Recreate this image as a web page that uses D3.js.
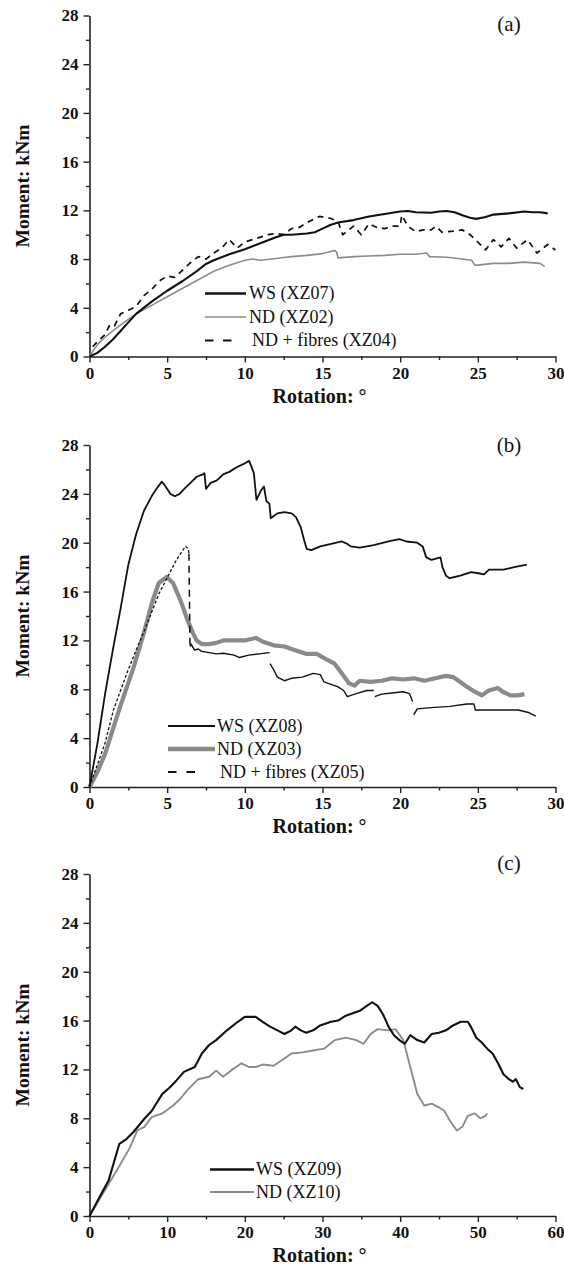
<!DOCTYPE html>
<html>
<head>
<meta charset="utf-8">
<script src="https://cdn.jsdelivr.net/npm/d3@7"></script>
<style>
  html, body { margin: 0; padding: 0; background: #fff; }
  svg { display: block; }
</style>
</head>
<body>
<svg id="chart" width="564" height="1281"></svg>
<script>
// ---------- data ----------
const momentTicks = [0, 4, 8, 12, 16, 20, 24, 28];
const momentMinor = [2, 6, 10, 14, 18, 22, 26];
const rotTicks30 = [0, 5, 10, 15, 20, 25, 30];
const rotMinor30 = [2.5, 7.5, 12.5, 17.5, 22.5, 27.5];
const rotTicks60 = [0, 10, 20, 30, 40, 50, 60];
const rotMinor60 = [5, 15, 25, 35, 45, 55];

const panelLabels = ["(a)", "(b)", "(c)"];
const legendA = ["WS (XZ07)", "ND (XZ02)", "ND + fibres (XZ04)"];
const legendB = ["WS (XZ08)", "ND (XZ03)", "ND + fibres (XZ05)"];
const legendC = ["WS (XZ09)", "ND (XZ10)"];

// Panel (a)
const xz07 = [[0,0],[0.5,0.3],[1,0.8],[1.5,1.4],[2,2.1],[2.5,2.8],[3,3.5],[4,4.5],[5,5.4],[6,6.2],[7,7.1],[7.5,7.6],[8,7.9],[9,8.4],[10,8.8],[11,9.3],[12,9.8],[12.5,10.0],[13,10.0],[14,10.1],[14.5,10.2],[15,10.5],[15.5,10.8],[16,11.0],[17,11.2],[18,11.5],[19,11.7],[20,11.9],[20.5,11.95],[21,11.85],[22,11.8],[22.5,11.9],[23,11.95],[23.5,11.85],[24,11.6],[24.5,11.4],[24.9,11.3],[25.5,11.45],[26,11.65],[27,11.75],[28,11.9],[28.5,11.85],[29,11.85],[29.5,11.75]];
const xz02 = [[0,0],[0.3,0.6],[0.6,1.1],[1,1.6],[2,2.6],[3,3.5],[4,4.2],[5,4.9],[6,5.6],[7,6.3],[8,7.0],[9,7.5],[10,7.9],[10.5,8.0],[11,7.9],[12,8.05],[13,8.2],[14,8.3],[15,8.45],[15.8,8.7],[15.9,8.6],[16,8.1],[17,8.2],[18,8.25],[19,8.3],[20,8.4],[21,8.4],[21.7,8.5],[21.9,8.2],[23,8.15],[24,8.0],[24.6,7.9],[24.8,7.5],[25,7.5],[26,7.65],[27,7.65],[28,7.75],[29,7.65],[29.3,7.4]];
const xz04 = [[0.2,0.8],[0.5,1.2],[1,1.8],[1.3,2.6],[1.6,2.5],[2,3.5],[2.5,3.8],[3,4.1],[3.5,5.0],[4,5.5],[4.5,6.2],[5,6.6],[5.5,6.5],[6,7.1],[6.5,7.7],[7,8.2],[7.5,8.0],[8,8.5],[8.5,8.9],[9,9.6],[9.5,8.9],[10,9.4],[10.5,9.6],[11,9.8],[11.5,10.0],[12,10.1],[12.5,10.0],[13,10.5],[13.5,10.6],[14,11.0],[14.8,11.5],[15.5,11.35],[16,11.1],[16.3,10.0],[16.6,10.3],[17,10.7],[17.5,10.0],[18,10.9],[18.5,10.6],[19,10.5],[19.5,10.7],[20,10.7],[20.1,11.6],[20.5,10.7],[21,10.25],[21.5,10.4],[22,10.4],[22.3,10.7],[22.7,10.2],[23,10.25],[23.5,10.3],[24,10.4],[24.5,10.0],[25,9.4],[25.5,8.75],[26,9.6],[26.5,9.0],[27,9.7],[27.5,8.9],[28.2,9.6],[28.8,8.5],[29.5,9.2],[30,8.75]];

// Panel (b)
const xz08 = [[0,0],[0.5,3.5],[1,7.6],[1.5,11.2],[2,14.6],[2.5,18.2],[3,20.7],[3.5,22.6],[4,23.8],[4.3,24.4],[4.66,25.0],[4.9,24.6],[5.2,24.0],[5.5,23.8],[5.8,24.0],[6.1,24.4],[6.5,24.9],[6.9,25.4],[7.3,25.6],[7.4,25.7],[7.5,24.4],[7.8,24.9],[8.2,25.1],[8.6,25.6],[9.0,25.8],[9.5,26.2],[10.0,26.5],[10.28,26.7],[10.58,25.7],[10.75,23.5],[11.05,24.3],[11.23,24.6],[11.39,23.4],[11.58,23.2],[11.67,22.0],[12.09,22.4],[12.55,22.5],[13.01,22.4],[13.29,22.1],[13.59,21.3],[13.82,20.2],[13.98,19.5],[14.28,19.4],[14.86,19.7],[15.55,19.9],[16.25,20.1],[16.6,19.9],[16.82,19.7],[17.4,19.6],[18.3,19.8],[19.25,20.1],[19.95,20.3],[20.4,20.1],[21.1,20.0],[21.45,19.7],[21.68,18.8],[22.02,18.6],[22.6,18.8],[22.72,18.0],[22.95,17.3],[23.18,17.1],[23.87,17.3],[24.57,17.6],[25.03,17.5],[25.4,17.4],[25.72,17.8],[26.65,17.8],[27.34,18.0],[28.15,18.2]];
const xz03 = [[0,0],[0.5,1.2],[1.0,2.7],[1.9,6.3],[2.84,9.8],[3.5,12.6],[4.0,15.0],[4.46,16.7],[4.97,17.2],[5.38,16.7],[5.85,15.3],[6.3,13.7],[6.66,12.6],[6.9,12.0],[7.23,11.7],[7.7,11.7],[8.16,11.8],[8.62,12.0],[9.31,12.0],[10.0,12.0],[10.7,12.2],[11.16,11.9],[11.86,11.6],[12.55,11.5],[13.24,11.2],[13.94,10.9],[14.63,10.9],[15.32,10.4],[15.78,10.1],[16.25,9.3],[16.7,8.5],[17.06,8.3],[17.4,8.7],[18.1,8.6],[18.8,8.7],[19.5,8.9],[20.2,8.8],[20.9,8.9],[21.56,8.7],[22.26,8.9],[22.95,9.1],[23.4,9.0],[23.87,8.6],[24.3,8.2],[24.8,7.8],[25.26,7.5],[25.7,7.9],[26.3,8.1],[26.6,7.8],[27.1,7.5],[27.57,7.5],[28.0,7.6]];
const xz05Rise = [[0,0],[0.5,1.8],[1.0,3.6],[1.54,6.3],[2.4,9.3],[3.0,11.2],[3.53,12.8],[4.0,14.3],[4.46,15.8],[5.15,17.5],[5.6,18.6],[5.96,19.3],[6.19,19.7],[6.36,19.5],[6.4,19.1]];
const xz05Drop = [[6.4,19.1],[6.47,11.5]];
const xz05Post = [[6.47,11.5],[6.54,11.7],[6.77,11.2],[7.0,11.3],[7.23,11.1],[7.7,11.0],[8.16,10.9],[8.62,10.95],[9.31,10.8],[9.66,10.6],[10.24,10.8],[10.93,10.9],[11.6,11.0],[11.6,null],[11.62,10.1],[11.86,9.6],[12.09,9.0],[12.55,8.7],[13.0,8.9],[13.7,9.0],[14.4,9.3],[14.86,9.2],[15.1,8.6],[15.55,8.4],[16.0,8.2],[16.36,7.9],[16.6,7.4],[17.17,7.65],[17.86,7.9],[18.3,7.9],[18.33,null],[18.37,7.4],[18.8,7.6],[19.48,7.7],[20.2,7.8],[20.6,7.65],[20.8,7.0],[20.83,null],[20.87,5.9],[21.1,6.4],[22.0,6.5],[23.2,6.6],[24.3,6.8],[24.75,6.8],[24.84,6.3],[25.5,6.3],[26.65,6.3],[27.6,6.3],[28.26,6.1],[28.73,5.8]];

// Panel (c)
const xz09 = [[0,0],[1.3,1.55],[2.45,2.9],[3.84,5.9],[4.76,6.3],[5.69,6.9],[7.07,7.96],[8.0,8.6],[9.38,10.0],[10.3,10.5],[11.2,11.1],[12.16,11.8],[13.55,12.2],[14.47,13.3],[15.4,14.0],[16.3,14.4],[17.7,15.2],[19.1,15.9],[20.0,16.3],[21.4,16.3],[22.3,15.9],[23.25,15.5],[24.2,15.2],[25.1,14.9],[26.0,15.2],[26.5,15.5],[27.2,15.2],[27.9,15.0],[28.8,15.2],[29.7,15.6],[31.1,15.9],[32.0,16.0],[33.0,16.4],[33.9,16.6],[34.8,16.8],[35.7,17.2],[36.4,17.5],[37.1,17.2],[37.8,16.5],[38.5,15.5],[39.2,14.8],[39.9,14.4],[40.6,14.1],[41.3,14.8],[42.2,14.4],[43.1,14.2],[44.06,14.9],[44.98,15.0],[45.9,15.2],[46.8,15.6],[47.8,15.9],[48.7,15.9],[49.1,15.5],[49.8,14.6],[50.5,14.2],[51.2,13.7],[51.9,13.3],[52.6,12.5],[53.3,11.6],[54.0,11.2],[54.5,11.0],[54.9,11.2],[55.4,10.55],[55.85,10.4]];
const xz10 = [[0,0],[1.3,1.4],[2.45,2.6],[3.84,4.1],[5.2,5.6],[6.15,7.0],[7.07,7.3],[8.0,8.1],[9.38,8.4],[10.77,9.05],[11.7,9.6],[12.6,10.3],[14.0,11.2],[15.4,11.4],[16.3,11.9],[17.2,11.4],[18.2,11.9],[19.56,12.5],[20.5,12.2],[21.4,12.2],[22.3,12.4],[23.7,12.3],[25.1,12.9],[26.0,13.3],[27.4,13.4],[28.8,13.55],[30.2,13.7],[31.6,14.4],[33.0,14.6],[34.35,14.4],[35.3,14.1],[36.2,14.9],[37.1,15.3],[38.5,15.2],[39.4,15.3],[40.4,14.4],[41.3,12.2],[42.2,10.0],[43.1,9.05],[44.06,9.2],[44.98,8.9],[45.7,8.6],[46.4,7.8],[47.3,7.0],[48.0,7.3],[48.7,8.2],[49.6,8.4],[50.3,8.0],[51.0,8.2],[51.2,8.4]];

// ---------- drawing ----------
const FONT = "'Liberation Serif', 'Times New Roman', 'DejaVu Serif', serif";
const svg = d3.select("#chart");
svg.append("rect").attr("width", 564).attr("height", 1281).attr("fill", "#fff");

const GREY = "#8c8c8c";
const LEFT = 89.5, RIGHT = 555.5;

const panels = [
  { top: 15.5, bottom: 356.5, xMax: 30, ticks: rotTicks30, minor: rotMinor30, label: panelLabels[0], labelY: 31, titleDy: 46,
    series: [
      { data: xz04, color: "#111", width: 1.7, dash: "6,5" },
      { data: xz02, color: GREY, width: 1.6 },
      { data: xz07, color: "#111", width: 2.1 }
    ],
    legend: { x0: 205, x1: 246, tx: 249, y0: 293.5, dy: 23.5, names: legendA,
      styles: [ { color: "#111", width: 2.3 }, { color: GREY, width: 1.6 }, { color: "#111", width: 2.2, dash: "8.5,9.5", x1: 232 } ] }
  },
  { top: 445, bottom: 787, xMax: 30, ticks: rotTicks30, minor: rotMinor30, label: panelLabels[1], labelY: 452, titleDy: 46,
    series: [
      { data: xz03, color: "#8a8a8a", width: 4.2 },
      { data: xz05Rise, color: "#111", width: 1.3, dash: "3,2" },
      { data: xz05Drop, color: "#111", width: 1.5, dash: "7,5" },
      { data: xz05Post, color: "#111", width: 1.4 },
      { data: xz08, color: "#111", width: 1.8 }
    ],
    legend: { x0: 168, x1: 215, tx: 217, y0: 726, dy: 23, names: legendB,
      styles: [ { color: "#111", width: 1.8 }, { color: "#8a8a8a", width: 4.5 }, { color: "#111", width: 2, dash: "8.5,10", x1: 196 } ] }
  },
  { top: 874, bottom: 1216, xMax: 60, ticks: rotTicks60, minor: rotMinor60, label: panelLabels[2], labelY: 870, titleDy: 46,
    series: [
      { data: xz10, color: GREY, width: 1.9 },
      { data: xz09, color: "#111", width: 2.1 }
    ],
    legend: { x0: 210, x1: 254, tx: 256, y0: 1169.5, dy: 22.5, names: legendC,
      styles: [ { color: "#111", width: 2.3 }, { color: GREY, width: 1.8 } ] }
  }
];

panels.forEach(p => {
  const g = svg.append("g");
  const x = d3.scaleLinear().domain([0, p.xMax]).range([LEFT, RIGHT]);
  const y = d3.scaleLinear().domain([0, 28]).range([p.bottom, p.top]);

  // minor ticks
  g.append("g").attr("transform", `translate(0,${p.bottom})`)
    .call(d3.axisBottom(x).tickValues(p.minor).tickSize(3.5).tickFormat(""))
    .call(s => s.select(".domain").remove());
  g.append("g").attr("transform", `translate(${LEFT},0)`)
    .call(d3.axisLeft(y).tickValues(momentMinor).tickSize(3.5).tickFormat(""))
    .call(s => s.select(".domain").remove());

  // major axes
  const xa = g.append("g").attr("transform", `translate(0,${p.bottom})`)
    .call(d3.axisBottom(x).tickValues(p.ticks).tickSize(6).tickSizeOuter(0).tickPadding(4).tickFormat(d3.format("d")));
  const ya = g.append("g").attr("transform", `translate(${LEFT},0)`)
    .call(d3.axisLeft(y).tickValues(momentTicks).tickSize(6).tickSizeOuter(0).tickPadding(5).tickFormat(d3.format("d")));
  [xa, ya].forEach(a => {
    a.attr("font-family", FONT).attr("font-size", 17).attr("font-weight", "bold");
    a.selectAll("text").attr("font-family", FONT).attr("font-weight", "bold")
      .attr("font-size", 17).attr("fill", "#111");
    a.select(".domain").attr("stroke", "#222").attr("stroke-width", 1.6);
  });
  g.selectAll(".tick line").attr("stroke", "#222").attr("stroke-width", 1.4);

  // axis titles
  g.append("text").attr("x", (LEFT + RIGHT) / 2 - 3).attr("y", p.bottom + p.titleDy)
    .attr("text-anchor", "middle").attr("font-family", FONT).attr("font-weight", "bold").attr("font-size", 20)
    .attr("fill", "#111").text("Rotation: °");
  g.append("text").attr("transform", `translate(29,${(p.top + p.bottom) / 2}) rotate(-90)`)
    .attr("text-anchor", "middle").attr("font-family", FONT).attr("font-weight", "bold").attr("font-size", 19.5)
    .attr("fill", "#111").text("Moment: kNm");

  // panel label
  g.append("text").attr("x", 509).attr("y", p.labelY).attr("text-anchor", "middle")
    .attr("font-family", FONT).attr("font-size", 21).attr("fill", "#111").text(p.label);

  // series
  const line = d3.line().defined(d => d[1] != null).x(d => x(d[0])).y(d => y(d[1]));
  p.series.forEach(s => {
    g.append("path").datum(s.data).attr("d", line)
      .attr("fill", "none").attr("stroke", s.color).attr("stroke-width", s.width)
      .attr("stroke-linejoin", "round").attr("stroke-dasharray", s.dash || null);
  });

  // legend
  const L = p.legend;
  L.names.forEach((name, i) => {
    const st = L.styles[i];
    const yy = L.y0 + i * L.dy;
    g.append("line").attr("x1", L.x0).attr("x2", st.x1 || L.x1).attr("y1", yy).attr("y2", yy)
      .attr("stroke", st.color).attr("stroke-width", st.width).attr("stroke-dasharray", st.dash || null);
    g.append("text").attr("x", st.dash ? L.tx + 3 : L.tx).attr("y", yy).attr("dy", "0.33em")
      .attr("font-family", FONT).attr("font-size", 18).attr("fill", "#111").text(name);
  });
});
</script>
</body>
</html>
